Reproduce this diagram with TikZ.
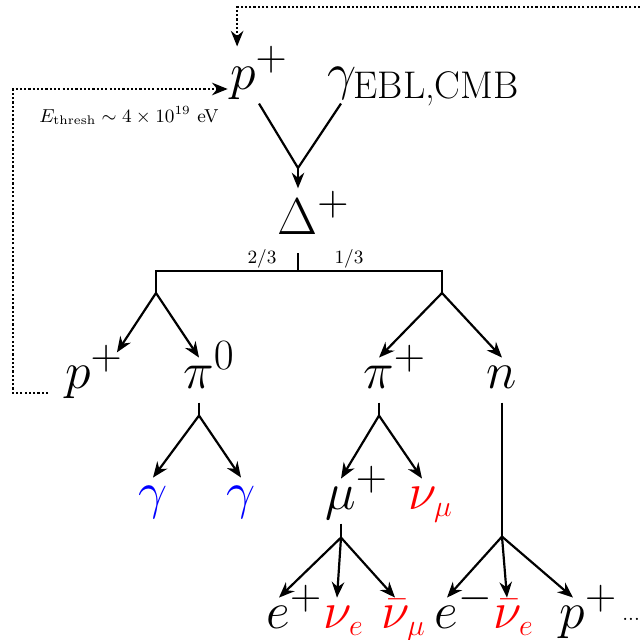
\documentclass[tikz,border=0pt]{standalone}
\usepackage{amsmath, amssymb, mathtools}
\usepackage{tikz}
\usetikzlibrary{arrows.meta}
\newcommand{\nsub}[1]{\mathrlap{\text{\fontsize{14.4}{16}\selectfont$#1$}}}

\begin{document}
\begin{tikzpicture}[x=0.48pt, y=-0.48pt,
    ptcl/.style={font=\Huge, inner sep=1pt, text height=13.4pt, text depth=5.8pt, anchor=base},
    neut/.style={ptcl, text=red},
    phot/.style={ptcl, text=blue},
    decay/.style={line width=1.05pt},
    arr/.style={decay, -{Stealth[length=7.5pt, width=6pt]}},
    loopback/.style={line width=1.05pt, densely dotted, -{Stealth[length=7.5pt, width=6pt]}},
    frac/.style={font=\small, inner sep=0pt}]
      \useasboundingbox (0,0) rectangle (640,640);
      % ── incoming proton + background photon ──────────────────────────────────
      \node[ptcl] (pin) at (259,89) {$p^+$};
      \node[ptcl] (gam) at (341,89) {$\gamma_{\mathrlap{\text{\fontsize{18.5}{20}\selectfont EBL,CMB}}}$};
      \coordinate (vtx) at (298,168);
      \draw[decay] (pin.south) -- (vtx) -- (gam.south);
      % ── resonance ────────────────────────────────────────────────────────────
      \node[font=\Huge, inner sep=1pt, text depth=8pt, anchor=base] (del) at (298,234) {$\Delta^{\mathrlap{+}}$};
      \draw[arr] (vtx) -- (del.north);
      % ── branching bar ────────────────────────────────────────────────────────
      \coordinate (bar) at (298,271);
      \coordinate (sL) at (156,293);
      \coordinate (sR) at (442,293);
      \draw[decay] (del.south) -- (bar);
      \draw[decay] (sL) |- (bar) -| (sR);
      \node[frac] (brL) at (262,259) {2/3};
      \node[frac] (brR) at (349,259) {1/3};
      % ── first generation ─────────────────────────────────────────────────────
      \node[ptcl] (p2) at (94,388) {$p^+$};
      \node[ptcl] (pi0) at (199,388) {$\pi^{\mathrlap{0}}$};
      \node[ptcl] (pip) at (379,388) {$\pi^{\mathrlap{+}}$};
      \node[ptcl] (n) at (502,388) {$n$};
      \draw[arr] (sL) -- ([xshift=11pt, yshift=2.5pt]p2.north);
      \draw[arr] (sL) -- (pi0.north);
      \draw[arr] (sR) -- (pip.north);
      \draw[arr] (sR) -- (n.north);
      % ── pion decays ──────────────────────────────────────────────────────────
      \draw[decay] (pi0.south) -- ++(0,13) coordinate (s0);
      \draw[decay] (pip.south) -- ++(0,13) coordinate (s1);
      \node[phot] (g1) at (153,508) {$\gamma$};
      \node[phot] (g2) at (241,508) {$\gamma$};
      \node[ptcl] (mu) at (341,509) {$\mu^{\mathrlap{+}}$};
      \node[neut] (numu) at (422,509) {$\nu_{\nsub{\mu}}$};
      \draw[arr] (s0) -- (g1.north);
      \draw[arr] (s0) -- (g2.north);
      \draw[arr] (s1) -- (mu.north);
      \draw[arr] (s1) -- (numu.north);
      % ── muon and neutron decays ──────────────────────────────────────────────
      \draw[decay] (mu.south) -- ++(0,14) coordinate (s3);
      \draw[decay] (n.south) -- ++(0,134) coordinate (s2);
      \node[ptcl] (ep) at (279,628) {$e^{\mathrlap{+}}$};
      \node[neut] (nue) at (337,628) {$\nu_{\nsub{e}}$};
      \node[neut] (nubm) at (395,628) {$\bar\nu_{\nsub{\mu}}$};
      \node[ptcl] (em) at (447,628) {$e^{\mathrlap{-}}$};
      \node[neut] (nube) at (507,628) {$\bar\nu_{\nsub{e}}$};
      \node[ptcl] (p4) at (573,628) {$p^{\mathrlap{+}}$};
      \node[font=\normalsize, inner sep=0pt, anchor=base west] (etc) at (622,620) {...};
      \foreach \t in {ep, nue, nubm} { \draw[arr] (s3) -- (\t.north); }
      \foreach \t in {em, nube, p4} { \draw[arr] (s2) -- (\t.north); }
      % ── proton feedback loops ────────────────────────────────────────────────
      \coordinate (rt) at (640,7);
      \coordinate (lx) at (13,0);
      \draw[loopback] (rt) -| ([xshift=-10.5pt, yshift=5.8pt]pin.north);
      \draw[loopback, shorten <=7pt] ([yshift=-2.4pt]p2.base west) -| (lx |- pin.base west) -- (pin.base west);
      \node[font=\small, anchor=base] (eth) at (129,122) {$E_\mathrm{thresh}\sim4\times10^{19}$~eV};
    \end{tikzpicture}
\end{document}
